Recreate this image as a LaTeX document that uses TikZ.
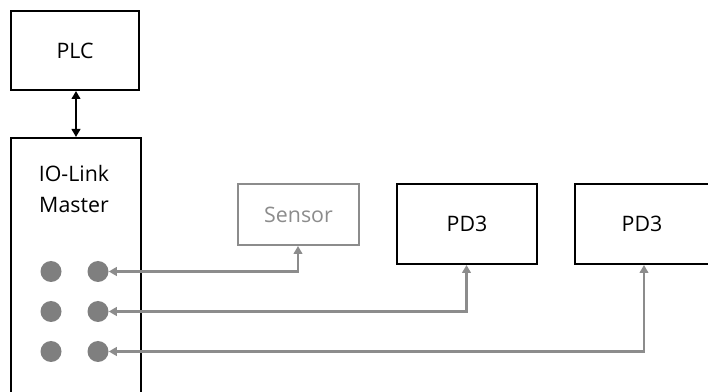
\documentclass[tikz,border=0pt]{standalone}
\usepackage{fontspec}
\setmainfont{Open Sans}
\usetikzlibrary{arrows.meta}
\definecolor{linkgray}{HTML}{8C8C8C}
\definecolor{dotgray}{HTML}{7F7F7F}
\begin{document}
\begin{tikzpicture}[x=0.75pt,y=-0.75pt,
  box/.style={draw=black,line width=1.5pt,inner sep=0pt,anchor=north west,font=\fontsize{16}{19}\selectfont},
  graybox/.style={draw=linkgray,line width=1.5pt,inner sep=0pt,anchor=north west,text=linkgray,font=\fontsize{16}{19}\selectfont},
  port/.style={circle,fill=dotgray,minimum size=21*0.75pt,inner sep=0pt},
  link/.style={draw=linkgray,line width=1.6pt,{Triangle[length=6pt,width=6.5pt]}-{Triangle[length=6pt,width=6.5pt]}},
  bus/.style={draw=black,line width=1.5pt,{Triangle[length=6pt,width=6.5pt]}-{Triangle[length=6pt,width=6.5pt]}}]
\useasboundingbox (0,0) rectangle (708,392);
\fill[white] (0,0) rectangle (708,392);
\node[box,minimum width=128*0.75pt,minimum height=79*0.75pt] (plc) at (10,10) {PLC};
\node[box,minimum width=130*0.75pt,minimum height=270*0.75pt] (master) at (10,137) {};
\node[font=\fontsize{16}{23}\selectfont,align=center,anchor=center] (mtext) at (74,189) {IO-Link\\Master};
\node[graybox,minimum width=121*0.75pt,minimum height=61*0.75pt] (sensor) at (237,183) {Sensor};
\node[box,minimum width=140*0.75pt,minimum height=80*0.75pt] (pdA) at (396,183) {PD3};
\node[box,minimum width=134*0.75pt,minimum height=80*0.75pt] (pdB) at (574,183) {PD3};
\node[port] (p1l) at (51,271.5) {};
\node[port] (p1r) at (98,271.5) {};
\node[port] (p2l) at (51,311.5) {};
\node[port] (p2r) at (98,311.5) {};
\node[port] (p3l) at (51,351.5) {};
\node[port] (p3r) at (98,351.5) {};
\coordinate (sx) at (298,0);
\coordinate (ax) at (466.5,0);
\coordinate (bx) at (644,0);
\draw[bus] (plc.south -| 76,0) -- (master.north -| 76,0);
\draw[link] (p1r.east) -| (sensor.south -| sx);
\draw[link] (p2r.east) -| (pdA.south -| ax);
\draw[link] (p3r.east) -| (pdB.south -| bx);
\end{tikzpicture}
\end{document}
